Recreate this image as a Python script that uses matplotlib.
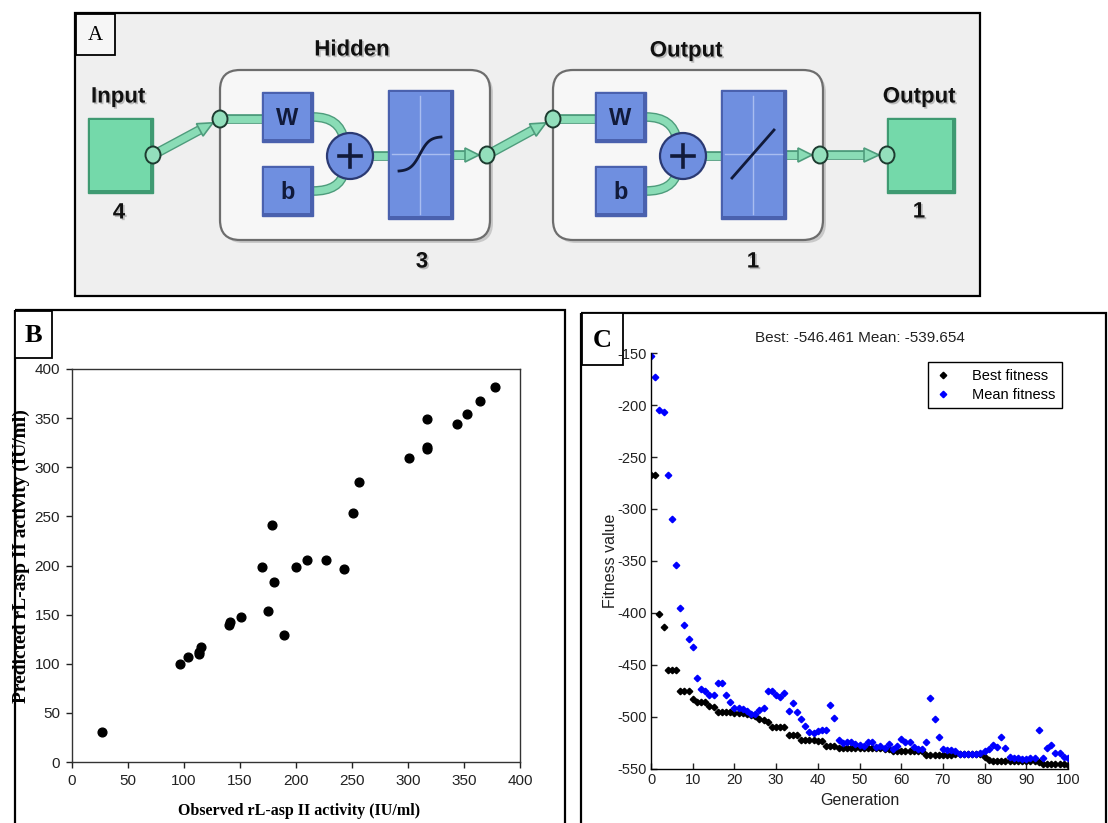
import matplotlib.pyplot as plt
import numpy as np
from matplotlib import font_manager
from matplotlib.patches import Rectangle, FancyBboxPatch, Circle, Ellipse, Polygon, PathPatch
from matplotlib.path import Path
import matplotlib.patheffects as pe

W, H = 1108, 823

# B: observed vs predicted rL-asp II activity (IU/ml)
observed = [27, 96, 104, 113, 113, 115, 140, 141, 151, 170, 175, 179, 180, 189,
            200, 210, 227, 243, 251, 256, 301, 317, 317, 317, 344, 353, 364, 378]
predicted = [31, 100, 107, 110, 112, 117, 139, 143, 148, 198, 154, 241, 183, 129,
             198, 206, 206, 196, 253, 285, 309, 349, 321, 319, 344, 354, 367, 382]

# C: GA fitness per generation
generation = np.arange(101)
best_fitness = [
    -267, -267, -401, -413, -455, -455, -455, -475, -475, -475,
    -483, -486, -486, -486, -489, -490, -495, -495, -495, -495,
    -496, -496, -496, -497, -498.5, -499.5, -502, -503, -504.5, -509.5,
    -509.5, -509.5, -510, -517.5, -517.5, -517.5, -522, -522, -522, -522.5,
    -523, -523, -528, -528, -528, -529.5, -529.5, -529.5, -529.5, -529.5,
    -530, -530, -530, -530, -530, -530, -531, -531, -533, -533,
    -533, -533, -533, -533, -533, -533, -536.5, -536.5, -536.5, -536.5,
    -536.5, -536.5, -536.5, -536, -536, -536, -536, -536, -536, -536,
    -538, -541.3, -542.3, -542.3, -542.3, -542.3, -542.3, -542.3, -542.3, -542.3,
    -542.3, -542.3, -542.3, -543.2, -545.2, -545.5, -545.5, -545.5, -545.5, -545.5,
    -546.461,
]
mean_fitness = [
    -153, -173.5, -204.5, -207, -267, -310, -353.5, -395.5, -412, -425,
    -433, -462.5, -473, -475, -479, -479, -467, -467, -478.5, -485.5,
    -491.5, -491.5, -492.5, -494.5, -497, -497, -493.5, -491, -475, -475,
    -479, -480.5, -477, -494, -487, -495, -502, -508.5, -514.5, -515,
    -513.5, -512.5, -512.5, -488.5, -500.5, -522.5, -525, -524.5, -524.5, -526,
    -527, -528, -524.5, -524.5, -528.5, -527.5, -529.5, -526, -530.5, -528,
    -521.5, -524.5, -524.5, -528.5, -530.5, -531, -524.5, -481.5, -502, -519,
    -531, -531.5, -531.5, -533, -535.5, -536, -536, -536, -536, -534.5,
    -532.5, -531, -527, -529, -519.5, -530, -538, -539, -539, -540,
    -540, -539, -539, -512.5, -539, -529.5, -527, -534.5, -534.5, -538,
    -539.654,
]

plt.rcParams['axes.unicode_minus'] = False

installed = {f.name for f in font_manager.fontManager.ttflist}
NARROW = 'Liberation Sans Narrow' if 'Liberation Sans Narrow' in installed else 'Liberation Sans'
SERIF = 'Liberation Serif'
SANS = 'Liberation Sans'

LINK = '#8adcb6'
LINK_EDGE = '#4e9c7c'
BLUE = '#6f8fe0'
BLUE_DARK = '#4a61ae'
GREEN = '#74d9aa'
GREEN_DARK = '#3f9a72'
INK = '#111a3a'


def pix(x0, y0, x1, y1):
    return [x0 / W, 1 - y1 / H, (x1 - x0) / W, (y1 - y0) / H]


fig = plt.figure(figsize=(W / 100, H / 100), dpi=100)
canvas = fig.add_axes([0, 0, 1, 1], zorder=0)
canvas.set_xlim(0, W)
canvas.set_ylim(H, 0)
canvas.axis('off')

link_fx = [pe.Stroke(linewidth=7, foreground=LINK_EDGE), pe.Normal()]
shadow_fx = [pe.SimplePatchShadow(offset=(1.2, -1.2), shadow_rgbFace='#888888', alpha=0.5), pe.Normal()]


def link(xs, ys):
    canvas.plot(xs, ys, color=LINK, lw=5, solid_capstyle='butt', zorder=2, path_effects=link_fx)


def curve(p0, p1, p2):
    path = Path([p0, p1, p2], [Path.MOVETO, Path.CURVE3, Path.CURVE3])
    canvas.add_patch(PathPatch(path, fill=False, edgecolor=LINK, lw=5, zorder=2,
                               path_effects=link_fx))


def node(x, y):
    canvas.add_patch(Ellipse((x, y), 15, 17, facecolor='#93dfbc', edgecolor='#1d3b30',
                             lw=1.4, zorder=5))


def arrow(p_from, p_to):
    (x0, y0), (x1, y1) = p_from, p_to
    d = np.hypot(x1 - x0, y1 - y0)
    ux, uy = (x1 - x0) / d, (y1 - y0) / d
    tip = (x1 - ux * 8, y1 - uy * 8)
    base = (tip[0] - ux * 15, tip[1] - uy * 15)
    link([x0, base[0] + ux * 2], [y0, base[1] + uy * 2])
    nx, ny = -uy, ux
    pts = [tip, (base[0] + nx * 7, base[1] + ny * 7), (base[0] - nx * 7, base[1] - ny * 7)]
    canvas.add_patch(Polygon(pts, closed=True, facecolor=LINK, edgecolor=LINK_EDGE,
                             lw=1.2, zorder=3))


def bevel_box(x0, y0, x1, y1, face, dark, label=None):
    canvas.add_patch(Rectangle((x0, y0), x1 - x0, y1 - y0, facecolor=dark,
                               edgecolor=dark, lw=1, zorder=3))
    canvas.add_patch(Rectangle((x0 + 1.5, y0 + 1.5), x1 - x0 - 5, y1 - y0 - 5,
                               facecolor=face, edgecolor='none', zorder=3))
    if label:
        canvas.text((x0 + x1) / 2, (y0 + y1) / 2 + 1, label, family=SANS, weight='bold',
                    fontsize=17, color=INK, ha='center', va='center', zorder=4)


def label(x, y, s, size=16):
    canvas.text(x, y, s, family=SANS, weight='bold', fontsize=size, color='#111111',
                ha='center', va='center', zorder=6, path_effects=shadow_fx)


def layer(x0, transfer):
    canvas.add_patch(FancyBboxPatch((x0 + 3, 73), 270, 170,
                                    boxstyle='round,pad=0,rounding_size=20',
                                    facecolor='#c9c9c9', edgecolor='none', zorder=1))
    canvas.add_patch(FancyBboxPatch((x0, 70), 270, 170,
                                    boxstyle='round,pad=0,rounding_size=20',
                                    facecolor='#f7f7f7', edgecolor='#6d6d6d', lw=1.6, zorder=1.5))
    link([x0, x0 + 42], [119, 119])
    node(x0, 119)
    bevel_box(x0 + 42, 92, x0 + 93, 142, BLUE, BLUE_DARK, 'W')
    bevel_box(x0 + 42, 166, x0 + 93, 216, BLUE, BLUE_DARK, 'b')
    curve((x0 + 93, 117), (x0 + 120, 117), (x0 + 124, 140))
    curve((x0 + 93, 191), (x0 + 120, 191), (x0 + 124, 172))
    link([x0 + 150, x0 + 170], [156, 156])
    canvas.add_patch(Circle((x0 + 130, 156), 23, facecolor=BLUE, edgecolor='#2b3a73',
                            lw=1.6, zorder=4))
    canvas.plot([x0 + 119, x0 + 141], [156, 156], color=INK, lw=2.6, zorder=5)
    canvas.plot([x0 + 130, x0 + 130], [145, 167], color=INK, lw=2.6, zorder=5)
    bevel_box(x0 + 168, 90, x0 + 233, 219, BLUE, BLUE_DARK)
    cx, cy = x0 + 200, 154
    canvas.plot([x0 + 172, x0 + 229], [cy, cy], color='#a9bdf0', lw=1, zorder=4)
    canvas.plot([cx, cx], [96, 214], color='#a9bdf0', lw=1, zorder=4)
    if transfer == 'tansig':
        t = np.linspace(-1, 1, 60)
        canvas.plot(cx + 21 * t, cy - 17 * np.tanh(2.2 * t) / np.tanh(2.2), color=INK,
                    lw=2, zorder=5)
    else:
        canvas.plot([cx - 21, cx + 21], [cy + 24, cy - 24], color=INK, lw=2, zorder=5)
    link([x0 + 233, x0 + 250], [155, 155])
    canvas.add_patch(Polygon([(x0 + 259, 155), (x0 + 245, 148), (x0 + 245, 162)],
                             closed=True, facecolor=LINK, edgecolor=LINK_EDGE, lw=1.2, zorder=3))
    node(x0 + 267, 155)


# ---- A: network diagram ----
canvas.add_patch(Rectangle((75, 13), 905, 283, facecolor='#efefef', edgecolor='black',
                           lw=1.6, zorder=0.5))
canvas.add_patch(Rectangle((76, 14), 39, 41, facecolor='#f6f6f6', edgecolor='black',
                           lw=1.3, zorder=0.6))
canvas.text(95, 35, 'A', family=SERIF, fontsize=15, ha='center', va='center', zorder=1)

bevel_box(88, 118, 153, 193, GREEN, GREEN_DARK)
arrow((153, 155), (220, 119))
node(153, 155)
label(118, 97, 'Input')
label(119, 213, '4')

layer(220, 'tansig')
label(352, 50, 'Hidden')
label(422, 262, '3')

arrow((487, 155), (553, 119))
layer(553, 'purelin')
label(686, 51, 'Output')
label(753, 262, '1')

bevel_box(887, 118, 955, 193, GREEN, GREEN_DARK)
arrow((820, 155), (887, 155))
node(887, 155)
label(919, 97, 'Output')
label(919, 212, '1')

# ---- panel frames ----
canvas.add_patch(Rectangle((15, 310), 550, 530, fill=False, edgecolor='black', lw=1.6))
canvas.add_patch(Rectangle((15, 311), 37, 47, facecolor='white', edgecolor='black', lw=1.3))
canvas.text(33.5, 335, 'B', family=SERIF, weight='bold', fontsize=19, ha='center', va='center')
canvas.add_patch(Rectangle((581, 313), 525, 530, fill=False, edgecolor='black', lw=1.6))
canvas.add_patch(Rectangle((582, 313), 41, 52, facecolor='white', edgecolor='black', lw=1.3))
canvas.text(602.5, 340, 'C', family=SERIF, weight='bold', fontsize=19, ha='center', va='center')

# ---- B: scatter ----
ax_b = fig.add_axes(pix(72, 369, 520, 762), zorder=1)
ax_b.set_facecolor('none')
ax_b.plot(observed, predicted, 'o', color='black', ms=6.3, ls='none')
ax_b.set_xlim(0, 400)
ax_b.set_ylim(0, 400)
ax_b.set_xticks(range(0, 401, 50))
ax_b.set_yticks(range(0, 401, 50))
ax_b.tick_params(direction='out', length=4.5, width=1, labelsize=11, colors='#222222', pad=4)
for t in ax_b.get_xticklabels() + ax_b.get_yticklabels():
    t.set_family(NARROW)
for s in ax_b.spines.values():
    s.set_color('#333333')
    s.set_linewidth(1)
ax_b.set_ylabel('Predicted rL-asp II activity (IU/ml)', family=SERIF, weight='bold', fontsize=14)
ax_b.yaxis.set_label_coords(-0.093, 0.525)
ax_b.set_xlabel('Observed rL-asp II activity (IU/ml)', family=SERIF, weight='bold', fontsize=11.5)
ax_b.xaxis.set_label_coords(0.507, -0.105)

# ---- C: fitness ----
ax_c = fig.add_axes(pix(651, 353, 1068, 769), zorder=1)
ax_c.set_facecolor('none')
ax_c.plot(generation, best_fitness, 'D', color='black', ms=3.3, ls='none', label='Best fitness')
ax_c.plot(generation, mean_fitness, 'D', color='blue', ms=3.3, ls='none', label='Mean fitness')
ax_c.set_xlim(0, 100)
ax_c.set_ylim(-550, -150)
ax_c.set_xticks(range(0, 101, 10))
ax_c.set_yticks(range(-550, -149, 50))
ax_c.tick_params(direction='in', length=4, width=1, labelsize=10.5, colors='#222222', pad=3)
for t in ax_c.get_xticklabels() + ax_c.get_yticklabels():
    t.set_family(NARROW)
ax_c.spines['top'].set_visible(False)
ax_c.spines['right'].set_visible(False)
ax_c.spines['left'].set_linewidth(1)
ax_c.spines['bottom'].set_linewidth(1)
ax_c.set_title('Best: -546.461 Mean: -539.654', family=NARROW, fontsize=11, color='#222222', pad=8)
ax_c.set_xlabel('Generation', family=NARROW, fontsize=11.5, color='#222222', labelpad=4)
ax_c.set_ylabel('Fitness value', family=SANS, fontsize=11.5, color='#222222')
ax_c.yaxis.set_label_coords(-0.078, 0.5)
leg = ax_c.legend(loc='upper right', bbox_to_anchor=(0.986, 0.978), borderaxespad=0,
                  fancybox=False, edgecolor='black', framealpha=1, handlelength=1.2,
                  handletextpad=1.4, borderpad=0.45, labelspacing=0.35,
                  prop={'family': NARROW, 'size': 10.5})
leg.get_frame().set_linewidth(1)

fig.savefig('out.png', dpi=100)
